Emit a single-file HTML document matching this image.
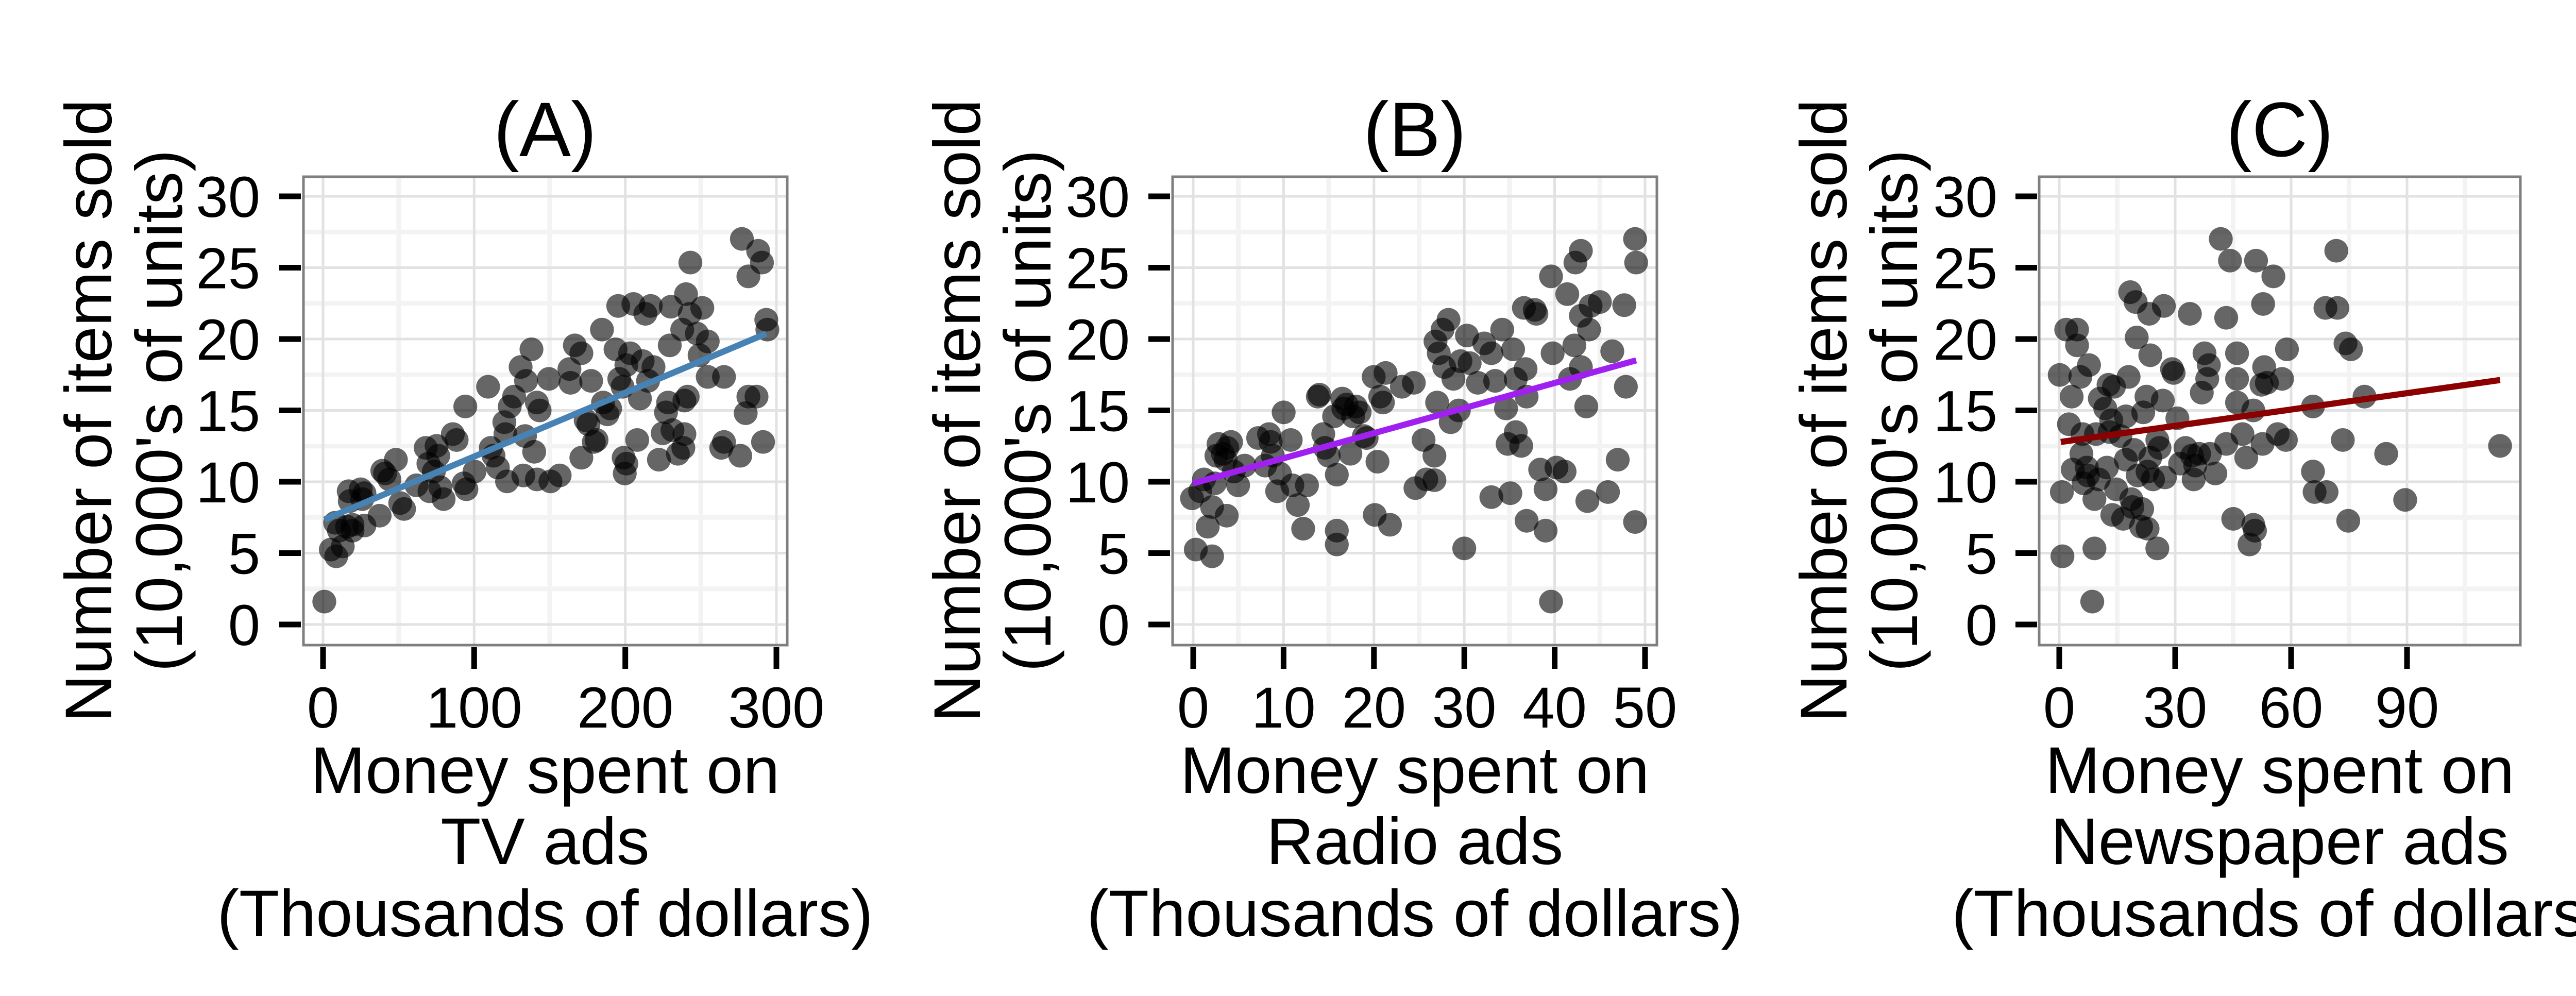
<!DOCTYPE html>
<html><head><meta charset="utf-8"><style>
html,body{margin:0;padding:0;background:#fff;}
svg{display:block;}
text{font-family:"Liberation Sans",Arial,sans-serif;fill:#000;}
</style></head><body>
<svg width="5062" height="1933" viewBox="0 0 5062 1933" xmlns="http://www.w3.org/2000/svg">
<rect width="5062" height="1933" fill="#fff"/>

<!-- ============ PANEL A ============ -->
<g>
<rect x="589" y="343" width="939" height="909" fill="#fff"/>
<g stroke="#f3f3f3" stroke-width="9">
<line x1="773.7" y1="343" x2="773.7" y2="1252"/><line x1="1067" y1="343" x2="1067" y2="1252"/><line x1="1360.3" y1="343" x2="1360.3" y2="1252"/>
<line x1="589" y1="1142.75" x2="1528" y2="1142.75"/><line x1="589" y1="1004.25" x2="1528" y2="1004.25"/><line x1="589" y1="865.75" x2="1528" y2="865.75"/><line x1="589" y1="727.25" x2="1528" y2="727.25"/><line x1="589" y1="588.75" x2="1528" y2="588.75"/><line x1="589" y1="450.25" x2="1528" y2="450.25"/>
</g>
<g stroke="#e2e2e2" stroke-width="5">
<line x1="627" y1="343" x2="627" y2="1252"/><line x1="920.3" y1="343" x2="920.3" y2="1252"/><line x1="1213.7" y1="343" x2="1213.7" y2="1252"/><line x1="1507" y1="343" x2="1507" y2="1252"/>
<line x1="589" y1="1212" x2="1528" y2="1212"/><line x1="589" y1="1073.5" x2="1528" y2="1073.5"/><line x1="589" y1="935" x2="1528" y2="935"/><line x1="589" y1="796.5" x2="1528" y2="796.5"/><line x1="589" y1="658" x2="1528" y2="658"/><line x1="589" y1="519.5" x2="1528" y2="519.5"/><line x1="589" y1="381" x2="1528" y2="381"/>
</g>
<g transform="translate(0,150) scale(1.05263,0.76511)" fill="#000" fill-opacity="0.6">
<ellipse cx="598" cy="1330" rx="22" ry="30"/><ellipse cx="610" cy="1198" rx="22" ry="30"/><ellipse cx="620" cy="1215" rx="22" ry="30"/><ellipse cx="632" cy="1190" rx="22" ry="30"/><ellipse cx="618" cy="1130" rx="22" ry="30"/><ellipse cx="625" cy="1150" rx="22" ry="30"/><ellipse cx="640" cy="1140" rx="22" ry="30"/><ellipse cx="650" cy="1135" rx="22" ry="30"/><ellipse cx="650" cy="1150" rx="22" ry="30"/><ellipse cx="672" cy="1137" rx="22" ry="30"/><ellipse cx="645" cy="1075" rx="22" ry="30"/><ellipse cx="643" cy="1050" rx="22" ry="30"/><ellipse cx="665" cy="1045" rx="22" ry="30"/><ellipse cx="668" cy="1070" rx="22" ry="30"/><ellipse cx="672" cy="1055" rx="22" ry="30"/><ellipse cx="700" cy="1112" rx="22" ry="30"/><ellipse cx="705" cy="998" rx="22" ry="30"/><ellipse cx="710" cy="1005" rx="22" ry="30"/><ellipse cx="718" cy="1020" rx="22" ry="30"/><ellipse cx="730" cy="970" rx="22" ry="30"/><ellipse cx="738" cy="1080" rx="22" ry="30"/><ellipse cx="745" cy="1095" rx="22" ry="30"/><ellipse cx="768" cy="1035" rx="22" ry="30"/><ellipse cx="785" cy="940" rx="22" ry="30"/><ellipse cx="790" cy="980" rx="22" ry="30"/><ellipse cx="792" cy="1050" rx="22" ry="30"/><ellipse cx="800" cy="1000" rx="22" ry="30"/><ellipse cx="805" cy="935" rx="22" ry="30"/><ellipse cx="808" cy="960" rx="22" ry="30"/><ellipse cx="812" cy="1040" rx="22" ry="30"/><ellipse cx="818" cy="1070" rx="22" ry="30"/><ellipse cx="835" cy="905" rx="22" ry="30"/><ellipse cx="842" cy="920" rx="22" ry="30"/><ellipse cx="855" cy="1030" rx="22" ry="30"/><ellipse cx="860" cy="1045" rx="22" ry="30"/><ellipse cx="858" cy="835" rx="22" ry="30"/><ellipse cx="875" cy="1000" rx="22" ry="30"/><ellipse cx="900" cy="785" rx="22" ry="30"/><ellipse cx="905" cy="940" rx="22" ry="30"/><ellipse cx="910" cy="960" rx="22" ry="30"/><ellipse cx="918" cy="990" rx="22" ry="30"/><ellipse cx="930" cy="875" rx="22" ry="30"/><ellipse cx="932" cy="905" rx="22" ry="30"/><ellipse cx="935" cy="1025" rx="22" ry="30"/><ellipse cx="940" cy="835" rx="22" ry="30"/><ellipse cx="948" cy="810" rx="22" ry="30"/><ellipse cx="960" cy="735" rx="22" ry="30"/><ellipse cx="965" cy="1010" rx="22" ry="30"/><ellipse cx="968" cy="910" rx="22" ry="30"/><ellipse cx="970" cy="770" rx="22" ry="30"/><ellipse cx="980" cy="690" rx="22" ry="30"/><ellipse cx="985" cy="950" rx="22" ry="30"/><ellipse cx="990" cy="1020" rx="22" ry="30"/><ellipse cx="990" cy="825" rx="22" ry="30"/><ellipse cx="995" cy="845" rx="22" ry="30"/><ellipse cx="1012" cy="765" rx="22" ry="30"/><ellipse cx="1015" cy="1025" rx="22" ry="30"/><ellipse cx="1032" cy="1010" rx="22" ry="30"/><ellipse cx="1050" cy="740" rx="22" ry="30"/><ellipse cx="1052" cy="775" rx="22" ry="30"/><ellipse cx="1060" cy="680" rx="22" ry="30"/><ellipse cx="1072" cy="700" rx="22" ry="30"/><ellipse cx="1072" cy="965" rx="22" ry="30"/><ellipse cx="1080" cy="870" rx="22" ry="30"/><ellipse cx="1085" cy="880" rx="22" ry="30"/><ellipse cx="1090" cy="770" rx="22" ry="30"/><ellipse cx="1095" cy="925" rx="22" ry="30"/><ellipse cx="1100" cy="920" rx="22" ry="30"/><ellipse cx="1110" cy="640" rx="22" ry="30"/><ellipse cx="1112" cy="825" rx="22" ry="30"/><ellipse cx="1120" cy="855" rx="22" ry="30"/><ellipse cx="1125" cy="840" rx="22" ry="30"/><ellipse cx="1135" cy="690" rx="22" ry="30"/><ellipse cx="1140" cy="580" rx="22" ry="30"/><ellipse cx="1142" cy="765" rx="22" ry="30"/><ellipse cx="1148" cy="785" rx="22" ry="30"/><ellipse cx="1150" cy="965" rx="22" ry="30"/><ellipse cx="1152" cy="1005" rx="22" ry="30"/><ellipse cx="1155" cy="980" rx="22" ry="30"/><ellipse cx="1155" cy="730" rx="22" ry="30"/><ellipse cx="1162" cy="700" rx="22" ry="30"/><ellipse cx="1168" cy="575" rx="22" ry="30"/><ellipse cx="1175" cy="920" rx="22" ry="30"/><ellipse cx="1180" cy="815" rx="22" ry="30"/><ellipse cx="1185" cy="720" rx="22" ry="30"/><ellipse cx="1190" cy="600" rx="22" ry="30"/><ellipse cx="1195" cy="770" rx="22" ry="30"/><ellipse cx="1200" cy="580" rx="22" ry="30"/><ellipse cx="1205" cy="735" rx="22" ry="30"/><ellipse cx="1215" cy="970" rx="22" ry="30"/><ellipse cx="1222" cy="903" rx="22" ry="30"/><ellipse cx="1228" cy="850" rx="22" ry="30"/><ellipse cx="1232" cy="825" rx="22" ry="30"/><ellipse cx="1235" cy="680" rx="22" ry="30"/><ellipse cx="1237" cy="582" rx="22" ry="30"/><ellipse cx="1240" cy="895" rx="22" ry="30"/><ellipse cx="1250" cy="955" rx="22" ry="30"/><ellipse cx="1260" cy="940" rx="22" ry="30"/><ellipse cx="1262" cy="905" rx="22" ry="30"/><ellipse cx="1262" cy="820" rx="22" ry="30"/><ellipse cx="1265" cy="550" rx="22" ry="30"/><ellipse cx="1268" cy="810" rx="22" ry="30"/><ellipse cx="1258" cy="640" rx="22" ry="30"/><ellipse cx="1272" cy="600" rx="22" ry="30"/><ellipse cx="1273" cy="470" rx="22" ry="30"/><ellipse cx="1285" cy="650" rx="22" ry="30"/><ellipse cx="1290" cy="705" rx="22" ry="30"/><ellipse cx="1295" cy="585" rx="22" ry="30"/><ellipse cx="1305" cy="760" rx="22" ry="30"/><ellipse cx="1305" cy="670" rx="22" ry="30"/><ellipse cx="1330" cy="940" rx="22" ry="30"/><ellipse cx="1335" cy="925" rx="22" ry="30"/><ellipse cx="1335" cy="760" rx="22" ry="30"/><ellipse cx="1365" cy="960" rx="22" ry="30"/><ellipse cx="1368" cy="410" rx="22" ry="30"/><ellipse cx="1375" cy="852" rx="22" ry="30"/><ellipse cx="1380" cy="810" rx="22" ry="30"/><ellipse cx="1380" cy="505" rx="22" ry="30"/><ellipse cx="1395" cy="810" rx="22" ry="30"/><ellipse cx="1398" cy="440" rx="22" ry="30"/><ellipse cx="1405" cy="470" rx="22" ry="30"/><ellipse cx="1407" cy="925" rx="22" ry="30"/><ellipse cx="1413" cy="615" rx="22" ry="30"/><ellipse cx="1415" cy="640" rx="22" ry="30"/>
<line x1="598" y1="1122" x2="1413" y2="650" stroke="#4682B4" stroke-width="12" vector-effect="non-scaling-stroke"/>
</g>
<rect x="589" y="343" width="939" height="909" fill="none" stroke="#7f7f7f" stroke-width="5"/>
<g stroke="#000" stroke-width="11">
<line x1="627" y1="1256" x2="627" y2="1298"/><line x1="920.3" y1="1256" x2="920.3" y2="1298"/><line x1="1213.7" y1="1256" x2="1213.7" y2="1298"/><line x1="1507" y1="1256" x2="1507" y2="1298"/>
<line x1="542" y1="1212" x2="584" y2="1212"/><line x1="542" y1="1073.5" x2="584" y2="1073.5"/><line x1="542" y1="935" x2="584" y2="935"/><line x1="542" y1="796.5" x2="584" y2="796.5"/><line x1="542" y1="658" x2="584" y2="658"/><line x1="542" y1="519.5" x2="584" y2="519.5"/><line x1="542" y1="381" x2="584" y2="381"/>
</g>
<g font-size="112" text-anchor="end">
<text x="505" y="1252">0</text><text x="505" y="1113.5">5</text><text x="505" y="975">10</text><text x="505" y="836.5">15</text><text x="505" y="698">20</text><text x="505" y="559.5">25</text><text x="505" y="421">30</text>
</g>
<g font-size="112" text-anchor="middle">
<text x="627" y="1412">0</text><text x="920.3" y="1412">100</text><text x="1213.7" y="1412">200</text><text x="1507" y="1412">300</text>
</g>
<text x="1058" y="303" font-size="150" text-anchor="middle">(A)</text>
<g font-size="128" text-anchor="middle">
<text x="1058" y="1539">Money spent on</text><text x="1058" y="1677">TV ads</text><text x="1058" y="1817">(Thousands of dollars)</text>
</g>
<text transform="translate(216,797) rotate(-90)" font-size="128" text-anchor="middle">Number of items sold</text>
<text transform="translate(353,797) rotate(-90)" font-size="128" text-anchor="middle">(10,000's of units)</text>
</g>

<!-- ============ PANEL B ============ -->
<g>
<g stroke="#f3f3f3" stroke-width="9">
<line x1="2403.7" y1="343" x2="2403.7" y2="1252"/><line x1="2579.1" y1="343" x2="2579.1" y2="1252"/><line x1="2754.5" y1="343" x2="2754.5" y2="1252"/><line x1="2929.9" y1="343" x2="2929.9" y2="1252"/><line x1="3105.3" y1="343" x2="3105.3" y2="1252"/>
<line x1="2276" y1="1142.75" x2="3216" y2="1142.75"/><line x1="2276" y1="1004.25" x2="3216" y2="1004.25"/><line x1="2276" y1="865.75" x2="3216" y2="865.75"/><line x1="2276" y1="727.25" x2="3216" y2="727.25"/><line x1="2276" y1="588.75" x2="3216" y2="588.75"/><line x1="2276" y1="450.25" x2="3216" y2="450.25"/>
</g>
<g stroke="#e2e2e2" stroke-width="5">
<line x1="2316" y1="343" x2="2316" y2="1252"/><line x1="2491.4" y1="343" x2="2491.4" y2="1252"/><line x1="2666.8" y1="343" x2="2666.8" y2="1252"/><line x1="2842.2" y1="343" x2="2842.2" y2="1252"/><line x1="3017.6" y1="343" x2="3017.6" y2="1252"/><line x1="3193" y1="343" x2="3193" y2="1252"/>
<line x1="2276" y1="1212" x2="3216" y2="1212"/><line x1="2276" y1="1073.5" x2="3216" y2="1073.5"/><line x1="2276" y1="935" x2="3216" y2="935"/><line x1="2276" y1="796.5" x2="3216" y2="796.5"/><line x1="2276" y1="658" x2="3216" y2="658"/><line x1="2276" y1="519.5" x2="3216" y2="519.5"/><line x1="2276" y1="381" x2="3216" y2="381"/>
</g>
<g transform="translate(1700,150) scale(1.05263,0.76511)" fill="#000" fill-opacity="0.6">
<ellipse cx="583" cy="1068" rx="22" ry="30"/><ellipse cx="590" cy="1198" rx="22" ry="30"/><ellipse cx="598" cy="1050" rx="22" ry="30"/><ellipse cx="605" cy="1020" rx="22" ry="30"/><ellipse cx="612" cy="1140" rx="22" ry="30"/><ellipse cx="620" cy="1215" rx="22" ry="30"/><ellipse cx="620" cy="1090" rx="22" ry="30"/><ellipse cx="625" cy="1030" rx="22" ry="30"/><ellipse cx="628" cy="960" rx="22" ry="30"/><ellipse cx="632" cy="930" rx="22" ry="30"/><ellipse cx="640" cy="955" rx="22" ry="30"/><ellipse cx="645" cy="970" rx="22" ry="30"/><ellipse cx="648" cy="940" rx="22" ry="30"/><ellipse cx="655" cy="925" rx="22" ry="30"/><ellipse cx="647" cy="1112" rx="22" ry="30"/><ellipse cx="660" cy="1000" rx="22" ry="30"/><ellipse cx="668" cy="1035" rx="22" ry="30"/><ellipse cx="680" cy="985" rx="22" ry="30"/><ellipse cx="705" cy="915" rx="22" ry="30"/><ellipse cx="718" cy="985" rx="22" ry="30"/><ellipse cx="725" cy="905" rx="22" ry="30"/><ellipse cx="728" cy="925" rx="22" ry="30"/><ellipse cx="732" cy="960" rx="22" ry="30"/><ellipse cx="740" cy="1050" rx="22" ry="30"/><ellipse cx="745" cy="1005" rx="22" ry="30"/><ellipse cx="752" cy="850" rx="22" ry="30"/><ellipse cx="765" cy="920" rx="22" ry="30"/><ellipse cx="768" cy="1035" rx="22" ry="30"/><ellipse cx="778" cy="1085" rx="22" ry="30"/><ellipse cx="788" cy="1145" rx="22" ry="30"/><ellipse cx="795" cy="1035" rx="22" ry="30"/><ellipse cx="815" cy="810" rx="22" ry="30"/><ellipse cx="818" cy="805" rx="22" ry="30"/><ellipse cx="825" cy="905" rx="22" ry="30"/><ellipse cx="828" cy="940" rx="22" ry="30"/><ellipse cx="835" cy="960" rx="22" ry="30"/><ellipse cx="845" cy="860" rx="22" ry="30"/><ellipse cx="850" cy="1008" rx="22" ry="30"/><ellipse cx="850" cy="1150" rx="22" ry="30"/><ellipse cx="850" cy="1185" rx="22" ry="30"/><ellipse cx="860" cy="815" rx="22" ry="30"/><ellipse cx="862" cy="840" rx="22" ry="30"/><ellipse cx="868" cy="830" rx="22" ry="30"/><ellipse cx="875" cy="955" rx="22" ry="30"/><ellipse cx="880" cy="860" rx="22" ry="30"/><ellipse cx="885" cy="835" rx="22" ry="30"/><ellipse cx="892" cy="850" rx="22" ry="30"/><ellipse cx="900" cy="910" rx="22" ry="30"/><ellipse cx="905" cy="915" rx="22" ry="30"/><ellipse cx="918" cy="760" rx="22" ry="30"/><ellipse cx="920" cy="1110" rx="22" ry="30"/><ellipse cx="925" cy="975" rx="22" ry="30"/><ellipse cx="930" cy="810" rx="22" ry="30"/><ellipse cx="935" cy="825" rx="22" ry="30"/><ellipse cx="940" cy="750" rx="22" ry="30"/><ellipse cx="948" cy="1135" rx="22" ry="30"/><ellipse cx="970" cy="785" rx="22" ry="30"/><ellipse cx="992" cy="775" rx="22" ry="30"/><ellipse cx="995" cy="1042" rx="22" ry="30"/><ellipse cx="1010" cy="920" rx="22" ry="30"/><ellipse cx="1015" cy="1020" rx="22" ry="30"/><ellipse cx="1030" cy="960" rx="22" ry="30"/><ellipse cx="1030" cy="1022" rx="22" ry="30"/><ellipse cx="1032" cy="670" rx="22" ry="30"/><ellipse cx="1035" cy="825" rx="22" ry="30"/><ellipse cx="1038" cy="700" rx="22" ry="30"/><ellipse cx="1045" cy="640" rx="22" ry="30"/><ellipse cx="1048" cy="735" rx="22" ry="30"/><ellipse cx="1056" cy="615" rx="22" ry="30"/><ellipse cx="1060" cy="875" rx="22" ry="30"/><ellipse cx="1065" cy="765" rx="22" ry="30"/><ellipse cx="1075" cy="845" rx="22" ry="30"/><ellipse cx="1078" cy="720" rx="22" ry="30"/><ellipse cx="1085" cy="1195" rx="22" ry="30"/><ellipse cx="1090" cy="655" rx="22" ry="30"/><ellipse cx="1095" cy="725" rx="22" ry="30"/><ellipse cx="1110" cy="775" rx="22" ry="30"/><ellipse cx="1122" cy="675" rx="22" ry="30"/><ellipse cx="1135" cy="1065" rx="22" ry="30"/><ellipse cx="1135" cy="700" rx="22" ry="30"/><ellipse cx="1142" cy="770" rx="22" ry="30"/><ellipse cx="1155" cy="640" rx="22" ry="30"/><ellipse cx="1162" cy="840" rx="22" ry="30"/><ellipse cx="1170" cy="1055" rx="22" ry="30"/><ellipse cx="1175" cy="690" rx="22" ry="30"/><ellipse cx="1165" cy="930" rx="22" ry="30"/><ellipse cx="1180" cy="900" rx="22" ry="30"/><ellipse cx="1190" cy="935" rx="22" ry="30"/><ellipse cx="1180" cy="765" rx="22" ry="30"/><ellipse cx="1195" cy="585" rx="22" ry="30"/><ellipse cx="1200" cy="1125" rx="22" ry="30"/><ellipse cx="1198" cy="740" rx="22" ry="30"/><ellipse cx="1200" cy="810" rx="22" ry="30"/><ellipse cx="1215" cy="590" rx="22" ry="30"/><ellipse cx="1218" cy="600" rx="22" ry="30"/><ellipse cx="1225" cy="995" rx="22" ry="30"/><ellipse cx="1235" cy="1150" rx="22" ry="30"/><ellipse cx="1235" cy="1045" rx="22" ry="30"/><ellipse cx="1245" cy="505" rx="22" ry="30"/><ellipse cx="1248" cy="700" rx="22" ry="30"/><ellipse cx="1245" cy="1330" rx="22" ry="30"/><ellipse cx="1255" cy="990" rx="22" ry="30"/><ellipse cx="1270" cy="1000" rx="22" ry="30"/><ellipse cx="1275" cy="550" rx="22" ry="30"/><ellipse cx="1280" cy="765" rx="22" ry="30"/><ellipse cx="1288" cy="680" rx="22" ry="30"/><ellipse cx="1290" cy="470" rx="22" ry="30"/><ellipse cx="1300" cy="440" rx="22" ry="30"/><ellipse cx="1300" cy="605" rx="22" ry="30"/><ellipse cx="1300" cy="735" rx="22" ry="30"/><ellipse cx="1310" cy="835" rx="22" ry="30"/><ellipse cx="1312" cy="1075" rx="22" ry="30"/><ellipse cx="1315" cy="640" rx="22" ry="30"/><ellipse cx="1318" cy="580" rx="22" ry="30"/><ellipse cx="1335" cy="570" rx="22" ry="30"/><ellipse cx="1350" cy="1052" rx="22" ry="30"/><ellipse cx="1358" cy="695" rx="22" ry="30"/><ellipse cx="1368" cy="970" rx="22" ry="30"/><ellipse cx="1380" cy="578" rx="22" ry="30"/><ellipse cx="1383" cy="785" rx="22" ry="30"/><ellipse cx="1400" cy="410" rx="22" ry="30"/><ellipse cx="1402" cy="470" rx="22" ry="30"/><ellipse cx="1400" cy="1128" rx="22" ry="30"/>
<line x1="585" y1="1030" x2="1402" y2="718" stroke="#A020F0" stroke-width="12" vector-effect="non-scaling-stroke"/>
</g>
<rect x="2276" y="343" width="940" height="909" fill="none" stroke="#7f7f7f" stroke-width="5"/>
<g stroke="#000" stroke-width="11">
<line x1="2316" y1="1256" x2="2316" y2="1298"/><line x1="2491.4" y1="1256" x2="2491.4" y2="1298"/><line x1="2666.8" y1="1256" x2="2666.8" y2="1298"/><line x1="2842.2" y1="1256" x2="2842.2" y2="1298"/><line x1="3017.6" y1="1256" x2="3017.6" y2="1298"/><line x1="3193" y1="1256" x2="3193" y2="1298"/>
<line x1="2229" y1="1212" x2="2271" y2="1212"/><line x1="2229" y1="1073.5" x2="2271" y2="1073.5"/><line x1="2229" y1="935" x2="2271" y2="935"/><line x1="2229" y1="796.5" x2="2271" y2="796.5"/><line x1="2229" y1="658" x2="2271" y2="658"/><line x1="2229" y1="519.5" x2="2271" y2="519.5"/><line x1="2229" y1="381" x2="2271" y2="381"/>
</g>
<g font-size="112" text-anchor="end">
<text x="2193" y="1252">0</text><text x="2193" y="1113.5">5</text><text x="2193" y="975">10</text><text x="2193" y="836.5">15</text><text x="2193" y="698">20</text><text x="2193" y="559.5">25</text><text x="2193" y="421">30</text>
</g>
<g font-size="112" text-anchor="middle">
<text x="2316" y="1412">0</text><text x="2491.4" y="1412">10</text><text x="2666.8" y="1412">20</text><text x="2842.2" y="1412">30</text><text x="3017.6" y="1412">40</text><text x="3193" y="1412">50</text>
</g>
<text x="2746" y="303" font-size="150" text-anchor="middle">(B)</text>
<g font-size="128" text-anchor="middle">
<text x="2746" y="1539">Money spent on</text><text x="2746" y="1677">Radio ads</text><text x="2746" y="1817">(Thousands of dollars)</text>
</g>
<text transform="translate(1902,797) rotate(-90)" font-size="128" text-anchor="middle">Number of items sold</text>
<text transform="translate(2039,797) rotate(-90)" font-size="128" text-anchor="middle">(10,000's of units)</text>
</g>

<!-- ============ PANEL C ============ -->
<g>
<g stroke="#f3f3f3" stroke-width="9">
<line x1="4109.5" y1="343" x2="4109.5" y2="1252"/><line x1="4334.5" y1="343" x2="4334.5" y2="1252"/><line x1="4559.5" y1="343" x2="4559.5" y2="1252"/><line x1="4784.5" y1="343" x2="4784.5" y2="1252"/>
<line x1="3958" y1="1142.75" x2="4892" y2="1142.75"/><line x1="3958" y1="1004.25" x2="4892" y2="1004.25"/><line x1="3958" y1="865.75" x2="4892" y2="865.75"/><line x1="3958" y1="727.25" x2="4892" y2="727.25"/><line x1="3958" y1="588.75" x2="4892" y2="588.75"/><line x1="3958" y1="450.25" x2="4892" y2="450.25"/>
</g>
<g stroke="#e2e2e2" stroke-width="5">
<line x1="3997" y1="343" x2="3997" y2="1252"/><line x1="4222" y1="343" x2="4222" y2="1252"/><line x1="4447" y1="343" x2="4447" y2="1252"/><line x1="4672" y1="343" x2="4672" y2="1252"/>
<line x1="3958" y1="1212" x2="4892" y2="1212"/><line x1="3958" y1="1073.5" x2="4892" y2="1073.5"/><line x1="3958" y1="935" x2="4892" y2="935"/><line x1="3958" y1="796.5" x2="4892" y2="796.5"/><line x1="3958" y1="658" x2="4892" y2="658"/><line x1="3958" y1="519.5" x2="4892" y2="519.5"/><line x1="3958" y1="381" x2="4892" y2="381"/>
</g>
<g transform="translate(3400,150) scale(1.05263,0.76511)" fill="#000" fill-opacity="0.6">
<ellipse cx="568" cy="755" rx="22" ry="30"/><ellipse cx="572" cy="1052" rx="22" ry="30"/><ellipse cx="573" cy="1215" rx="22" ry="30"/><ellipse cx="580" cy="640" rx="22" ry="30"/><ellipse cx="585" cy="880" rx="22" ry="30"/><ellipse cx="590" cy="810" rx="22" ry="30"/><ellipse cx="592" cy="995" rx="22" ry="30"/><ellipse cx="600" cy="640" rx="22" ry="30"/><ellipse cx="600" cy="680" rx="22" ry="30"/><ellipse cx="606" cy="760" rx="22" ry="30"/><ellipse cx="608" cy="955" rx="22" ry="30"/><ellipse cx="610" cy="905" rx="22" ry="30"/><ellipse cx="612" cy="1030" rx="22" ry="30"/><ellipse cx="618" cy="990" rx="22" ry="30"/><ellipse cx="620" cy="1010" rx="22" ry="30"/><ellipse cx="622" cy="730" rx="22" ry="30"/><ellipse cx="628" cy="1330" rx="22" ry="30"/><ellipse cx="632" cy="1070" rx="22" ry="30"/><ellipse cx="632" cy="1195" rx="22" ry="30"/><ellipse cx="635" cy="905" rx="22" ry="30"/><ellipse cx="640" cy="1020" rx="22" ry="30"/><ellipse cx="642" cy="815" rx="22" ry="30"/><ellipse cx="652" cy="840" rx="22" ry="30"/><ellipse cx="655" cy="990" rx="22" ry="30"/><ellipse cx="658" cy="780" rx="22" ry="30"/><ellipse cx="660" cy="900" rx="22" ry="30"/><ellipse cx="663" cy="870" rx="22" ry="30"/><ellipse cx="665" cy="1110" rx="22" ry="30"/><ellipse cx="668" cy="785" rx="22" ry="30"/><ellipse cx="672" cy="1045" rx="22" ry="30"/><ellipse cx="680" cy="910" rx="22" ry="30"/><ellipse cx="685" cy="1120" rx="22" ry="30"/><ellipse cx="690" cy="970" rx="22" ry="30"/><ellipse cx="690" cy="860" rx="22" ry="30"/><ellipse cx="695" cy="760" rx="22" ry="30"/><ellipse cx="698" cy="545" rx="22" ry="30"/><ellipse cx="700" cy="1070" rx="22" ry="30"/><ellipse cx="702" cy="1090" rx="22" ry="30"/><ellipse cx="705" cy="945" rx="22" ry="30"/><ellipse cx="708" cy="570" rx="22" ry="30"/><ellipse cx="710" cy="660" rx="22" ry="30"/><ellipse cx="712" cy="1010" rx="22" ry="30"/><ellipse cx="718" cy="1140" rx="22" ry="30"/><ellipse cx="720" cy="1095" rx="22" ry="30"/><ellipse cx="722" cy="850" rx="22" ry="30"/><ellipse cx="728" cy="810" rx="22" ry="30"/><ellipse cx="730" cy="1145" rx="22" ry="30"/><ellipse cx="730" cy="1000" rx="22" ry="30"/><ellipse cx="733" cy="600" rx="22" ry="30"/><ellipse cx="735" cy="965" rx="22" ry="30"/><ellipse cx="735" cy="705" rx="22" ry="30"/><ellipse cx="740" cy="1020" rx="22" ry="30"/><ellipse cx="748" cy="1195" rx="22" ry="30"/><ellipse cx="748" cy="920" rx="22" ry="30"/><ellipse cx="752" cy="940" rx="22" ry="30"/><ellipse cx="758" cy="820" rx="22" ry="30"/><ellipse cx="760" cy="580" rx="22" ry="30"/><ellipse cx="762" cy="1015" rx="22" ry="30"/><ellipse cx="775" cy="740" rx="22" ry="30"/><ellipse cx="778" cy="750" rx="22" ry="30"/><ellipse cx="785" cy="865" rx="22" ry="30"/><ellipse cx="790" cy="980" rx="22" ry="30"/><ellipse cx="800" cy="940" rx="22" ry="30"/><ellipse cx="808" cy="600" rx="22" ry="30"/><ellipse cx="812" cy="960" rx="22" ry="30"/><ellipse cx="815" cy="1020" rx="22" ry="30"/><ellipse cx="818" cy="985" rx="22" ry="30"/><ellipse cx="825" cy="955" rx="22" ry="30"/><ellipse cx="830" cy="800" rx="22" ry="30"/><ellipse cx="835" cy="700" rx="22" ry="30"/><ellipse cx="840" cy="765" rx="22" ry="30"/><ellipse cx="843" cy="730" rx="22" ry="30"/><ellipse cx="845" cy="955" rx="22" ry="30"/><ellipse cx="855" cy="1005" rx="22" ry="30"/><ellipse cx="865" cy="410" rx="22" ry="30"/><ellipse cx="875" cy="610" rx="22" ry="30"/><ellipse cx="875" cy="930" rx="22" ry="30"/><ellipse cx="882" cy="465" rx="22" ry="30"/><ellipse cx="888" cy="1120" rx="22" ry="30"/><ellipse cx="895" cy="700" rx="22" ry="30"/><ellipse cx="895" cy="765" rx="22" ry="30"/><ellipse cx="895" cy="825" rx="22" ry="30"/><ellipse cx="905" cy="905" rx="22" ry="30"/><ellipse cx="912" cy="965" rx="22" ry="30"/><ellipse cx="918" cy="1185" rx="22" ry="30"/><ellipse cx="925" cy="845" rx="22" ry="30"/><ellipse cx="925" cy="1135" rx="22" ry="30"/><ellipse cx="928" cy="1150" rx="22" ry="30"/><ellipse cx="930" cy="465" rx="22" ry="30"/><ellipse cx="940" cy="780" rx="22" ry="30"/><ellipse cx="942" cy="930" rx="22" ry="30"/><ellipse cx="943" cy="575" rx="22" ry="30"/><ellipse cx="945" cy="735" rx="22" ry="30"/><ellipse cx="950" cy="775" rx="22" ry="30"/><ellipse cx="962" cy="505" rx="22" ry="30"/><ellipse cx="970" cy="905" rx="22" ry="30"/><ellipse cx="978" cy="765" rx="22" ry="30"/><ellipse cx="985" cy="920" rx="22" ry="30"/><ellipse cx="987" cy="690" rx="22" ry="30"/><ellipse cx="1035" cy="1000" rx="22" ry="30"/><ellipse cx="1035" cy="835" rx="22" ry="30"/><ellipse cx="1038" cy="1052" rx="22" ry="30"/><ellipse cx="1058" cy="585" rx="22" ry="30"/><ellipse cx="1060" cy="1052" rx="22" ry="30"/><ellipse cx="1078" cy="440" rx="22" ry="30"/><ellipse cx="1080" cy="585" rx="22" ry="30"/><ellipse cx="1090" cy="920" rx="22" ry="30"/><ellipse cx="1095" cy="675" rx="22" ry="30"/><ellipse cx="1100" cy="1125" rx="22" ry="30"/><ellipse cx="1105" cy="690" rx="22" ry="30"/><ellipse cx="1130" cy="810" rx="22" ry="30"/><ellipse cx="1170" cy="955" rx="22" ry="30"/><ellipse cx="1205" cy="1072" rx="22" ry="30"/><ellipse cx="1380" cy="935" rx="22" ry="30"/>
<line x1="570" y1="925" x2="1380" y2="768" stroke="#8B0000" stroke-width="12" vector-effect="non-scaling-stroke"/>
</g>
<rect x="3958" y="343" width="934" height="909" fill="none" stroke="#7f7f7f" stroke-width="5"/>
<g stroke="#000" stroke-width="11">
<line x1="3997" y1="1256" x2="3997" y2="1298"/><line x1="4222" y1="1256" x2="4222" y2="1298"/><line x1="4447" y1="1256" x2="4447" y2="1298"/><line x1="4672" y1="1256" x2="4672" y2="1298"/>
<line x1="3912" y1="1212" x2="3954" y2="1212"/><line x1="3912" y1="1073.5" x2="3954" y2="1073.5"/><line x1="3912" y1="935" x2="3954" y2="935"/><line x1="3912" y1="796.5" x2="3954" y2="796.5"/><line x1="3912" y1="658" x2="3954" y2="658"/><line x1="3912" y1="519.5" x2="3954" y2="519.5"/><line x1="3912" y1="381" x2="3954" y2="381"/>
</g>
<g font-size="112" text-anchor="end">
<text x="3877" y="1252">0</text><text x="3877" y="1113.5">5</text><text x="3877" y="975">10</text><text x="3877" y="836.5">15</text><text x="3877" y="698">20</text><text x="3877" y="559.5">25</text><text x="3877" y="421">30</text>
</g>
<g font-size="112" text-anchor="middle">
<text x="3997" y="1412">0</text><text x="4222" y="1412">30</text><text x="4447" y="1412">60</text><text x="4672" y="1412">90</text>
</g>
<text x="4425" y="303" font-size="150" text-anchor="middle">(C)</text>
<g font-size="128" text-anchor="middle">
<text x="4425" y="1539">Money spent on</text><text x="4425" y="1677">Newspaper ads</text><text x="4425" y="1817">(Thousands of dollars)</text>
</g>
<text transform="translate(3584,797) rotate(-90)" font-size="128" text-anchor="middle">Number of items sold</text>
<text transform="translate(3721,797) rotate(-90)" font-size="128" text-anchor="middle">(10,000's of units)</text>
</g>
</svg>
</body></html>
